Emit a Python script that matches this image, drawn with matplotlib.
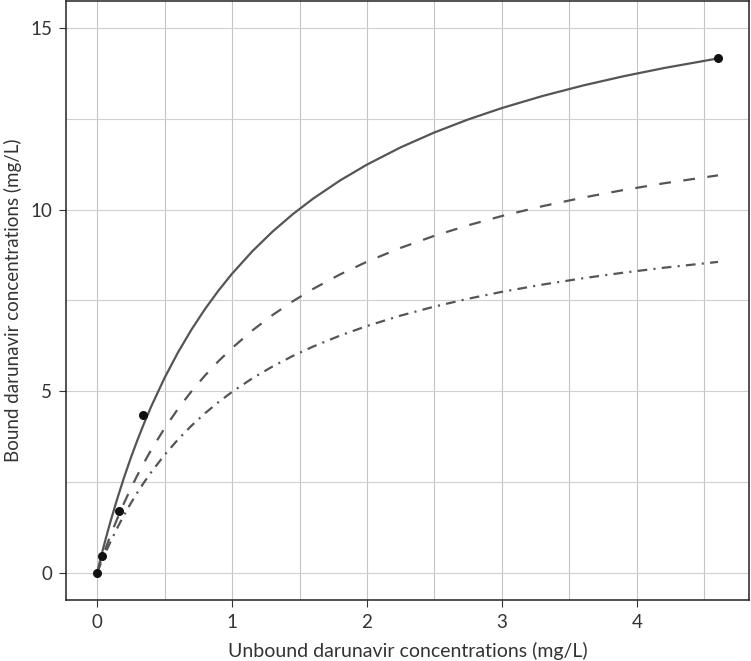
import matplotlib
matplotlib.use("Agg")
import matplotlib.pyplot as plt
from matplotlib.ticker import MultipleLocator

plt.rcParams['font.family'] = ['Lato', 'DejaVu Sans']
plt.rcParams['lines.scale_dashes'] = False

# observed points
obs_x = [0, 0.035, 0.16, 0.34, 4.6]
obs_y = [0, 0.45, 1.7, 4.35, 14.17]

# curves
curve_x = [0, 0.025, 0.05, 0.075, 0.1, 0.15, 0.2, 0.25, 0.3, 0.35, 0.4, 0.5,
           0.6, 0.7, 0.8, 0.9, 1.0, 1.15, 1.3, 1.45, 1.6, 1.8, 2.0, 2.25, 2.5,
           2.75, 3.0, 3.3, 3.6, 3.9, 4.2, 4.6]
solid_y = [0, 0.377, 0.738, 1.084, 1.417, 2.043, 2.624, 3.163, 3.664, 4.132,
           4.570, 5.367, 6.072, 6.701, 7.266, 7.775, 8.237, 8.855, 9.397,
           9.877, 10.304, 10.806, 11.244, 11.720, 12.130, 12.488, 12.802,
           13.133, 13.422, 13.677, 13.903, 14.168]
dashed_y = [0, 0.273, 0.536, 0.789, 1.032, 1.493, 1.921, 2.322, 2.696, 3.047,
            3.377, 3.979, 4.517, 5.000, 5.435, 5.830, 6.189, 6.673, 7.099,
            7.478, 7.818, 8.218, 8.569, 8.951, 9.283, 9.572, 9.828, 10.098,
            10.335, 10.543, 10.729, 10.947]
dotdash_y = [0, 0.228, 0.447, 0.656, 0.857, 1.237, 1.588, 1.913, 2.217, 2.500,
             2.765, 3.246, 3.673, 4.053, 4.394, 4.702, 4.981, 5.355, 5.682,
             5.972, 6.230, 6.533, 6.798, 7.085, 7.333, 7.549, 7.739, 7.938,
             8.113, 8.267, 8.403, 8.563]

line_col = '#555555'
text_col = '#333333'

fig = plt.figure(figsize=(7.51, 6.61), dpi=100)
ax = fig.add_axes([66 / 751, 61 / 661, 683 / 751, 599 / 661])

ax.plot(curve_x, solid_y, color=line_col, lw=1.6, zorder=3)
ax.plot(curve_x, dashed_y, color=line_col, lw=1.6, dashes=(8.5, 9), zorder=3)
ax.plot(curve_x, dotdash_y, color=line_col, lw=1.6, dashes=(7, 4.5, 1.5, 4.5), zorder=3)
ax.scatter(obs_x, obs_y, s=30, color='#111111', zorder=4)

ax.set_xlim(-0.23, 4.83)
ax.set_ylim(-0.75, 15.75)
ax.xaxis.set_major_locator(MultipleLocator(1))
ax.xaxis.set_minor_locator(MultipleLocator(0.5))
ax.yaxis.set_major_locator(MultipleLocator(5))
ax.yaxis.set_minor_locator(MultipleLocator(2.5))

ax.grid(True, which='both', axis='x', color='#c4c4c4', lw=0.8)
ax.grid(True, which='both', axis='y', color='#d0d0d0', lw=0.8)
ax.set_axisbelow(True)

ax.tick_params(which='major', length=5, width=0.8, color=text_col,
               labelsize=13.5, labelcolor=text_col, pad=5)
ax.tick_params(which='minor', length=0)
for s in ax.spines.values():
    s.set_color('#222222')
    s.set_linewidth(1.1)

ax.set_xlabel('Unbound darunavir concentrations (mg/L)', fontsize=14,
              color=text_col, labelpad=8)
ax.set_ylabel('Bound darunavir concentrations (mg/L)', fontsize=13.5,
              color=text_col, labelpad=6)

fig.savefig('out.png', dpi=100)
